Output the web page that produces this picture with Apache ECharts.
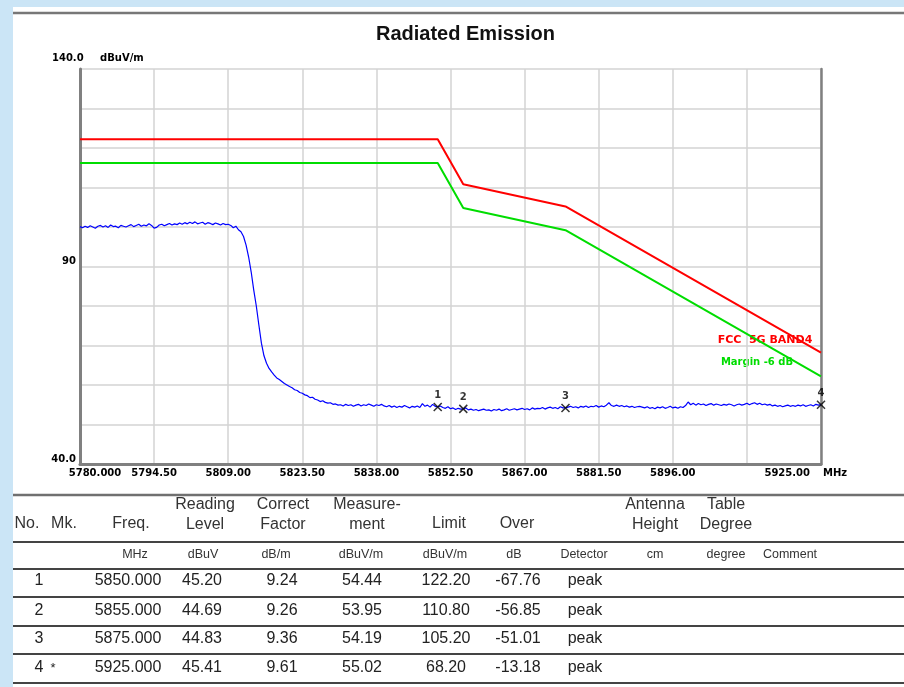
<!DOCTYPE html>
<html>
<head>
<meta charset="utf-8">
<script src="https://cdn.jsdelivr.net/npm/echarts@6/dist/echarts.min.js"></script>
<style>
  html, body { margin: 0; padding: 0; }
  #main { width: 904px; height: 687px; }
</style>
</head>
<body>
<div id="main"></div>
<script>
// axis ranges
var freqMin = 5780, freqMax = 5925, freqGridStep = 14.5;
var levelMin = 40, levelMax = 140, levelGridStep = 10;

// measured trace, one value every 0.5 MHz from 5780 MHz
var traceStart = 5780, traceStep = 0.5;
var traceLevel = [
  100.1, 99.8, 100.2, 99.9, 100.3, 100.0, 99.7, 100.2, 100.4, 100.0, 100.3, 99.9, 100.5, 100.1, 100.2, 99.8, 100.4, 100.2, 100.0, 100.3,
  100.6, 100.1, 100.4, 100.7, 100.2, 100.5, 100.3, 100.8, 100.4, 99.7, 99.9, 100.5, 100.7, 100.3, 100.6, 100.9, 100.5, 100.8, 100.6, 101.0,
  100.7, 101.1, 100.8, 101.2, 100.9, 101.3, 100.8, 101.0, 101.2, 100.7, 101.1, 100.9, 100.6, 101.0, 100.8, 100.5, 100.9, 100.6, 100.7, 100.4,
  99.8, 100.2, 99.3, 98.8, 97.6, 95.4, 92.4, 88.6, 84.0, 80.0,
  75.2, 70.6, 67.4, 65.5, 64.2, 63.3, 62.5, 61.8, 61.4, 60.9,
  60.4, 60.0, 59.6, 59.3, 58.8, 58.6, 58.1, 57.9, 57.5, 57.3,
  56.8, 56.9, 56.4, 56.2, 55.8, 56.0, 55.6, 55.4, 55.5, 55.1,
  55.2, 54.9, 55.0, 54.7, 55.1, 54.8, 55.0, 54.6, 54.9, 55.1, 54.7, 55.0, 54.8, 55.2, 54.9, 54.6, 55.0, 54.8, 55.1, 54.7,
  54.5, 54.8, 54.4, 54.7, 54.3, 54.6, 54.4, 54.8, 54.5, 54.2, 54.6, 54.4, 54.7, 54.3, 55.3, 54.6, 54.9, 54.4, 55.1, 54.6,
  54.44, 54.7, 54.3, 54.1, 54.5, 54.0, 54.2, 53.8, 54.1, 53.9, 53.95, 54.2, 53.7, 53.9, 53.6, 53.8, 53.5, 53.7, 53.9, 53.6,
  53.7, 53.4, 53.8, 53.6, 53.9, 53.5, 53.7, 54.0, 53.6, 53.8, 54.0, 53.7, 53.9, 54.1, 53.8, 54.0, 53.7, 54.2, 53.9, 54.1,
  54.0, 54.3, 53.9, 54.2, 54.4, 54.1, 54.3, 54.0, 54.5, 54.2, 54.19, 54.4, 54.6, 54.3, 54.5, 54.2, 54.6, 54.4, 54.7, 54.3,
  54.6, 54.5, 54.8, 54.4, 54.7, 54.5, 54.9, 55.5, 54.8, 54.6, 54.9, 54.6, 54.8, 54.5, 54.7, 54.4, 54.6, 54.3, 54.5, 54.6,
  54.4, 54.2, 54.5, 54.1, 54.3, 54.0, 54.4, 54.2, 54.5, 54.1, 54.3, 54.6, 54.2, 54.4, 54.1, 54.5, 54.3, 54.8, 55.7, 55.0,
  55.4, 54.9, 55.3, 55.0, 55.2, 54.8, 55.1, 55.3, 54.9, 55.2, 55.0, 54.8, 55.1, 54.9, 55.2, 55.0, 54.7, 55.0, 55.2, 54.9,
  55.1, 55.4, 55.0, 55.3, 55.5, 55.1, 55.4, 55.0, 55.2, 54.9, 55.1, 54.7, 54.9, 54.6, 54.8, 54.5, 54.7, 54.9, 54.6, 54.8,
  54.6, 54.9, 54.7, 55.0, 54.6, 54.8, 55.0, 54.7, 55.1, 54.9, 55.02
];

// limit line and margin line (limit - 6 dB)
var limitFreq = [5780, 5850, 5855, 5875, 5925];
var limitLevel = [122.2, 122.2, 110.8, 105.2, 68.2];
var marginLevel = [116.2, 116.2, 104.8, 99.2, 62.2];

// marker table
var markerNo = ['1', '2', '3', '4'];
var markerMk = ['', '', '', '*'];
var markerFreq = [5850, 5855, 5875, 5925];
var readingLevel = [45.20, 44.69, 44.83, 45.41];
var correctFactor = [9.24, 9.26, 9.36, 9.61];
var measurement = [54.44, 53.95, 54.19, 55.02];
var limitValue = [122.20, 110.80, 105.20, 68.20];
var overValue = [-67.76, -56.85, -51.01, -13.18];
var detector = ['peak', 'peak', 'peak', 'peak'];

var tableHead = ['No.', 'Mk.', 'Freq.', 'Reading\nLevel', 'Correct\nFactor', 'Measure-\nment', 'Limit', 'Over', '', 'Antenna\nHeight', 'Table\nDegree', ''];
var tableUnits = ['', '', 'MHz', 'dBuV', 'dB/m', 'dBuV/m', 'dBuV/m', 'dB', 'Detector', 'cm', 'degree', 'Comment'];

// ---- layout of the table (pixels)
var headX = [27, 64, 131, 205, 283, 367, 449, 517, 584, 655, 726, 790];
var unitX = [27, 64, 135, 203, 276, 361, 445, 514, 584, 655, 726, 790];
var cellX = [39, 53, 128, 202, 282, 362, 446, 518, 585];
var rowY = [581, 611, 639, 668];
var ruleY = [542, 569, 597, 626, 654, 683];

var chart = echarts.init(document.getElementById('main'));

var traceData = traceLevel.map(function (v, i) {
  return [traceStart + i * traceStep - freqMin, v];
});
var limitData = limitFreq.map(function (f, i) { return [f - freqMin, limitLevel[i]]; });
var marginData = limitFreq.map(function (f, i) { return [f - freqMin, marginLevel[i]]; });
var markerData = markerFreq.map(function (f, i) { return [f - freqMin, measurement[i]]; });

var tableFont = '16px "Liberation Sans"';
var unitFont = '12.5px "Liberation Sans"';
var axisText = { fontFamily: 'DejaVu Sans', fontWeight: 'bold', fontSize: 10, color: '#000' };

var graphics = [
  { type: 'rect', shape: { x: 0, y: 0, width: 13, height: 687 }, style: { fill: '#cbe5f6' }, silent: true },
  { type: 'rect', shape: { x: 0, y: 0, width: 904, height: 7 }, style: { fill: '#cbe5f6' }, silent: true },
  { type: 'line', shape: { x1: 13, y1: 13, x2: 904, y2: 13 }, style: { stroke: '#777', lineWidth: 2.5 }, silent: true },
  { type: 'line', shape: { x1: 13, y1: 495, x2: 904, y2: 495 }, style: { stroke: '#707070', lineWidth: 2.5 }, silent: true },
  // limit line captions
  { type: 'text', x: 765, y: 340, style: { text: 'FCC  5G BAND4', font: 'bold 11px "DejaVu Sans"', fill: '#ff0000', align: 'center', verticalAlign: 'middle' }, silent: true },
  { type: 'text', x: 757, y: 362, style: { text: 'Margin -6 dB', font: 'bold 10px "DejaVu Sans"', fill: '#00dd00', align: 'center', verticalAlign: 'middle' }, silent: true }
];

ruleY.forEach(function (y) {
  graphics.push({ type: 'line', shape: { x1: 13, y1: y, x2: 904, y2: y }, style: { stroke: '#444', lineWidth: 2 }, silent: true });
});

tableHead.forEach(function (t, i) {
  if (!t) return;
  graphics.push({
    type: 'text', x: headX[i], y: t.indexOf('\n') >= 0 ? 515 : 524,
    style: { text: t, font: tableFont, fill: '#333', align: 'center', verticalAlign: 'middle', lineHeight: 20 },
    silent: true
  });
});
tableUnits.forEach(function (t, i) {
  if (!t) return;
  graphics.push({
    type: 'text', x: unitX[i], y: 555,
    style: { text: t, font: unitFont, fill: '#333', align: 'center', verticalAlign: 'middle' },
    silent: true
  });
});
markerNo.forEach(function (no, r) {
  var cells = [
    no, markerMk[r], markerFreq[r].toFixed(3), readingLevel[r].toFixed(2), correctFactor[r].toFixed(2),
    measurement[r].toFixed(2), limitValue[r].toFixed(2), overValue[r].toFixed(2), detector[r]
  ];
  cells.forEach(function (t, c) {
    if (!t) return;
    graphics.push({
      type: 'text', x: cellX[c], y: rowY[r],
      style: { text: t, font: c === 1 ? '13px "Liberation Sans"' : tableFont, fill: '#222', align: 'center', verticalAlign: 'middle' },
      silent: true
    });
  });
});

var option = {
  animation: false,
  backgroundColor: '#ffffff',
  title: {
    text: 'Radiated Emission',
    left: 371,
    top: 19,
    textStyle: { fontFamily: 'Liberation Sans', fontWeight: 'bold', fontSize: 20, color: '#111' }
  },
  grid: { left: 80, top: 69, right: 83, bottom: 223, containLabel: false },
  xAxis: {
    type: 'value',
    min: 0,
    max: freqMax - freqMin,
    interval: freqGridStep,
    name: 'MHz',
    nameLocation: 'end',
    nameGap: 2,
    nameMoveOverlap: false,
    nameTextStyle: Object.assign({ align: 'left', verticalAlign: 'top', padding: [4, 0, 0, 0] }, axisText),
    axisLine: { show: true, lineStyle: { color: '#808080', width: 3 } },
    axisTick: { show: false },
    splitLine: { show: true, lineStyle: { color: '#d3d3d3', width: 1.5 } },
    axisLabel: Object.assign({
      margin: 4,
      alignMaxLabel: 'right',
      formatter: function (v) {
        if (Math.abs(v) < 1e-6) return '{first|' + freqMin.toFixed(3) + '}';
        if (Math.abs(v - 130.5) < 1e-6) return '';
        if (Math.abs(v - (freqMax - freqMin)) < 1e-6) return '{last|' + freqMax.toFixed(2) + '}';
        return (freqMin + v).toFixed(2);
      },
      rich: {
        first: Object.assign({ padding: [0, 0, 0, 30] }, axisText),
        last: Object.assign({ padding: [0, 11, 0, 0] }, axisText)
      }
    }, axisText)
  },
  yAxis: [{
    type: 'value',
    min: levelMin,
    max: levelMax,
    interval: levelGridStep,
    name: 'dBuV/m',
    nameLocation: 'end',
    nameGap: 6,
    nameMoveOverlap: false,
    nameTextStyle: Object.assign({ align: 'left', padding: [0, 0, 0, 20] }, axisText),
    axisLine: { show: true, lineStyle: { color: '#808080', width: 3 } },
    axisTick: { show: false },
    splitLine: { show: true, lineStyle: { color: '#d3d3d3', width: 1.5 } },
    axisLabel: Object.assign({
      margin: 4,
      align: 'right',
      verticalAlign: 'bottom',
      formatter: function (v) {
        if (v === 140) return '{top|140.0}';
        if (v === 90) return '90';
        if (v === 40) return '40.0';
        return '';
      },
      rich: {
        top: Object.assign({ padding: [0, 0, 6, 0], width: 24, align: 'left' }, axisText)
      }
    }, axisText)
  }, {
    type: 'value',
    position: 'right',
    min: levelMin,
    max: levelMax,
    interval: levelGridStep,
    axisLine: { show: true, lineStyle: { color: '#808080', width: 2.5 } },
    axisTick: { show: false },
    axisLabel: { show: false },
    splitLine: { show: false }
  }],
  series: [
    {
      name: 'Trace',
      type: 'line',
      data: traceData,
      showSymbol: false,
      lineStyle: { color: '#0000ff', width: 1.2 },
      z: 3
    },
    {
      name: 'FCC 5G BAND4',
      type: 'line',
      data: limitData,
      showSymbol: false,
      lineStyle: { color: '#ff0000', width: 2 },
      z: 2
    },
    {
      name: 'Margin -6 dB',
      type: 'line',
      data: marginData,
      showSymbol: false,
      lineStyle: { color: '#00dd00', width: 2 },
      z: 2
    },
    {
      name: 'Markers',
      type: 'scatter',
      data: markerData,
      clip: false,
      symbol: 'path://M0,0L8,8M8,0L0,8',
      symbolSize: 8,
      itemStyle: { color: 'none', borderColor: '#000', borderWidth: 1.5 },
      label: Object.assign({
        show: true,
        position: 'top',
        distance: 0,
        formatter: function (p) { return markerNo[p.dataIndex]; }
      }, axisText),
      z: 5
    }
  ],
  graphic: graphics
};

chart.setOption(option);
</script>
</body>
</html>
